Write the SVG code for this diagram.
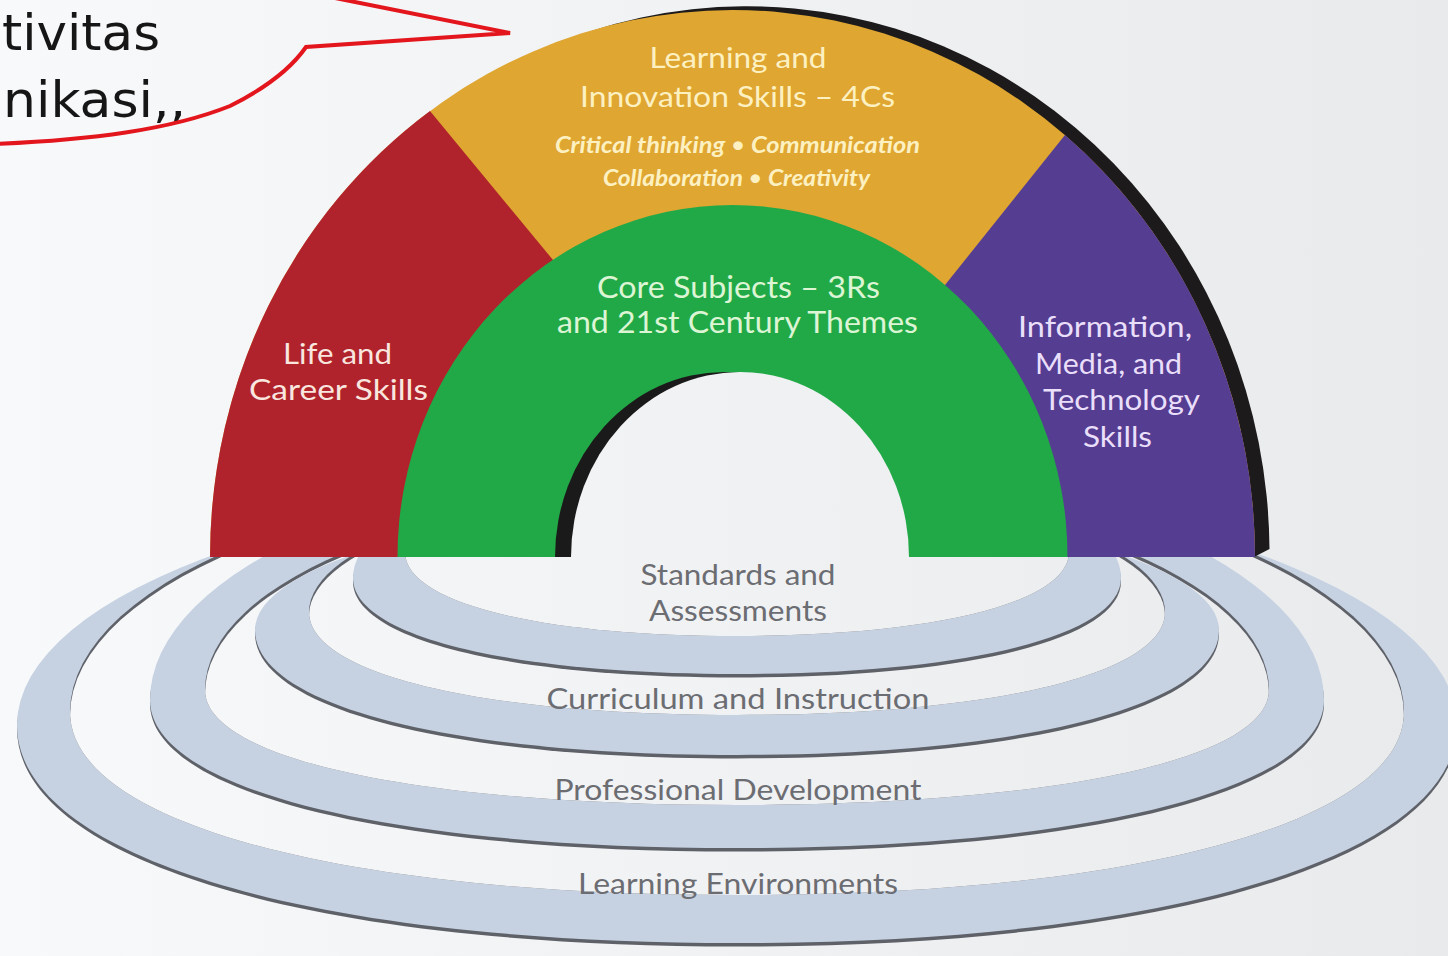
<svg xmlns="http://www.w3.org/2000/svg" width="1448" height="956" viewBox="0 0 1448 956">
<defs>
  <linearGradient id="bg" gradientUnits="userSpaceOnUse" x1="0" y1="0" x2="1448" y2="0">
    <stop offset="0" stop-color="#f8f9fb"/>
    <stop offset="1" stop-color="#e9eaec"/>
  </linearGradient>
  <path id="b4o" d="M17 725 C17 855.8 305 943 737 943 C1169 943 1457 855.8 1457 725 A720 248 0 0 0 17 725Z"/>
  <path id="b4i" d="M70 712 C70 821.8 336.8 895 737 895 C1137.2 895 1404 821.8 1404 712 A667 250 0 0 0 70 712Z"/>
  <path id="b3o" d="M150 700 C150 788.8 384.8 848 737 848 C1089.2 848 1324 788.8 1324 700 A587 243 0 0 0 150 700Z"/>
  <path id="b3i" d="M205 690 C205 759 417.8 805 737 805 C1056.2 805 1269 759 1269 690 A532 204 0 0 0 205 690Z"/>
  <path id="b2o" d="M255 630 C255 705 447.8 755 737 755 C1026.2 755 1219 705 1219 630 A482 125 0 0 0 255 630Z"/>
  <path id="b2i" d="M309 612 C309 673.8 480.2 715 737 715 C993.8 715 1165 673.8 1165 612 A428 130 0 0 0 309 612Z"/>
  <path id="b1o" d="M353 578 C353 635.6 506.6 674 737 674 C967.4 674 1121 635.6 1121 578 A384 130 0 0 0 353 578Z"/>
  <path id="b1i" d="M405 552 C405 602.4 537.8 636 737 636 C936.2 636 1069 602.4 1069 552 A332 100 0 0 0 405 552Z"/>
  <clipPath id="c4"><use href="#b4i"/></clipPath>
  <clipPath id="c3"><use href="#b3i"/></clipPath>
  <clipPath id="c2"><use href="#b2i"/></clipPath>
  <clipPath id="c1"><use href="#b1i"/></clipPath>
</defs>
<style>
  .band{fill:#c6d2e2}
  .wall{fill:#5e6168}
  .hole{fill:url(#bg)}
  .lbl{font-family:Lato,"Noto Sans",sans-serif;text-anchor:middle}
  .ring{font-size:29px;fill:#6b6d72}
  .ylw{fill:#fdf1c2}
  .grn{fill:#dcf5d4}
  .red{fill:#f8e6df}
  .pur{fill:#eadffa}
  .it{font-style:italic;font-weight:bold}
  .dot{font-weight:normal}
  .call{font-family:"DejaVu Sans",Verdana,sans-serif;font-size:50px;fill:#161616}
</style>

<rect x="0" y="0" width="1448" height="956" fill="url(#bg)"/>

<g id="callout">
  <text class="call" x="2" y="50" textLength="158" lengthAdjust="spacingAndGlyphs">tivitas</text>
  <text class="call" x="3" y="117" textLength="183" lengthAdjust="spacingAndGlyphs">nikasi,,</text>
  <path d="M335 -2 L510 33 L306 47 C290 70 262 90 230 106 C170 130 90 140 -5 144" fill="none" stroke="#e3161d" stroke-width="4" stroke-linejoin="miter"/>
</g>

<g id="ring-learning-environments">
  <use href="#b4o" class="wall" transform="translate(0,3.5)"/>
  <use href="#b4o" class="band"/>
  <use href="#b4i" class="wall"/>
  <g clip-path="url(#c4)"><use href="#b4i" class="hole" transform="translate(0,3.5)"/></g>
  <text class="lbl ring" x="738" y="894" textLength="320" lengthAdjust="spacingAndGlyphs">Learning Environments</text>
</g>
<g id="ring-professional-development">
  <use href="#b3o" class="wall" transform="translate(0,3.5)"/>
  <use href="#b3o" class="band"/>
  <use href="#b3i" class="wall"/>
  <g clip-path="url(#c3)"><use href="#b3i" class="hole" transform="translate(0,3.5)"/></g>
  <text class="lbl ring" x="738" y="800" textLength="367" lengthAdjust="spacingAndGlyphs">Professional Development</text>
</g>
<g id="ring-curriculum-instruction">
  <use href="#b2o" class="wall" transform="translate(0,3.5)"/>
  <use href="#b2o" class="band"/>
  <use href="#b2i" class="wall"/>
  <g clip-path="url(#c2)"><use href="#b2i" class="hole" transform="translate(0,3.5)"/></g>
  <text class="lbl ring" x="738" y="709" textLength="383" lengthAdjust="spacingAndGlyphs">Curriculum and Instruction</text>
</g>
<g id="ring-standards-assessments">
  <use href="#b1o" class="wall" transform="translate(0,3.5)"/>
  <use href="#b1o" class="band"/>
  <use href="#b1i" class="wall"/>
  <g clip-path="url(#c1)"><use href="#b1i" class="hole" transform="translate(0,3.5)"/></g>
  <text class="lbl ring" x="738" y="585" textLength="195" lengthAdjust="spacingAndGlyphs">Standards and</text>
  <text class="lbl ring" x="738" y="621" textLength="178" lengthAdjust="spacingAndGlyphs">Assessments</text>
</g>

<g id="rainbow-rim">
  <path d="M224.5 557 A522.5 547 0 0 1 1269.5 549 L1254 557 Z" fill="#1c1a1b"/>
</g>

<g id="learning-innovation-skills">
  <path d="M210 557 A522.5 547 0 0 1 1255 557 Z" fill="#dfa632"/>
  <text class="lbl ylw" x="738" y="68" font-size="28" textLength="177" lengthAdjust="spacingAndGlyphs">Learning and</text>
  <text class="lbl ylw" x="737.5" y="107" font-size="28" textLength="315" lengthAdjust="spacingAndGlyphs">Innovation Skills – 4Cs</text>
  <text class="lbl ylw it" x="737.5" y="153" font-size="23" textLength="365" lengthAdjust="spacingAndGlyphs">Critical thinking <tspan class="dot">•</tspan> Communication</text>
  <text class="lbl ylw it" x="736.5" y="186" font-size="23" textLength="267" lengthAdjust="spacingAndGlyphs">Collaboration <tspan class="dot">•</tspan> Creativity</text>
</g>

<g id="life-career-skills">
  <path d="M210 557 A522.5 547 0 0 1 430 111 L553 260 L600 400 L600 557 Z" fill="#b0232c"/>
  <text class="lbl red" x="337.5" y="364" font-size="29" textLength="109" lengthAdjust="spacingAndGlyphs">Life and</text>
  <text class="lbl red" x="338.5" y="400" font-size="29" textLength="179" lengthAdjust="spacingAndGlyphs">Career Skills</text>
</g>

<g id="information-media-technology-skills">
  <path d="M1255 557 A522.5 547 0 0 0 1065 135 L945 285 L880 400 L880 557 Z" fill="#553d92"/>
  <text class="lbl pur" x="1105" y="337" font-size="29" textLength="174" lengthAdjust="spacingAndGlyphs">Information,</text>
  <text class="lbl pur" x="1108.5" y="374" font-size="29" textLength="147" lengthAdjust="spacingAndGlyphs">Media, and</text>
  <text class="lbl pur" x="1121.5" y="410" font-size="29" textLength="157" lengthAdjust="spacingAndGlyphs">Technology</text>
  <text class="lbl pur" x="1117.5" y="447" font-size="29" textLength="69" lengthAdjust="spacingAndGlyphs">Skills</text>
</g>

<g id="core-subjects">
  <path d="M397.5 557 A335 352 0 0 1 1067.5 557 Z" fill="#22a947"/>
  <path d="M555 557 A169 185 0 0 1 893 557 Z" fill="#1b1a1a"/>
  <path d="M571 557 A169 185 0 0 1 909 557 Z" fill="url(#bg)"/>
  <text class="lbl grn" x="738.5" y="298" font-size="30" textLength="283" lengthAdjust="spacingAndGlyphs">Core Subjects – 3Rs</text>
  <text class="lbl grn" x="737.5" y="333" font-size="30" textLength="361" lengthAdjust="spacingAndGlyphs">and 21st Century Themes</text>
</g>
</svg>
